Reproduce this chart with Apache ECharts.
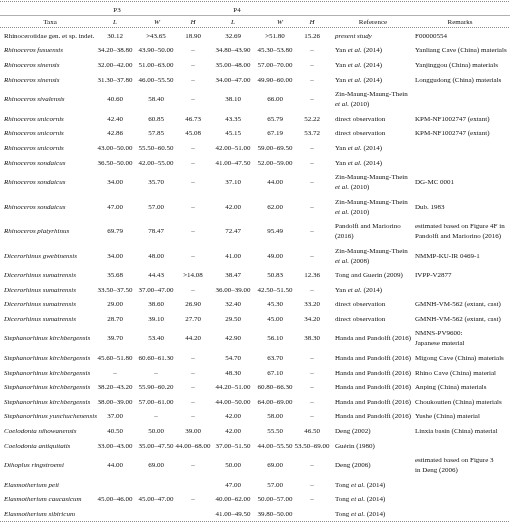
<!DOCTYPE html>
<html><head><meta charset="utf-8">
<script src="https://cdn.jsdelivr.net/npm/echarts@6/dist/echarts.min.js"></script>
<style>html,body{margin:0;padding:0;background:#fff}#c{width:510px;height:523px}</style>
</head><body><div id="c"></div>
<script>
// ---------- data ----------
const taxa = [
 "Rhinocerotidae gen. et sp. indet.","Rhinoceros fusuensis","Rhinoceros sinensis","Rhinoceros sinensis",
 "Rhinoceros sivalensis","Rhinoceros unicornis","Rhinoceros unicornis","Rhinoceros unicornis",
 "Rhinoceros sondaicus","Rhinoceros sondaicus","Rhinoceros sondaicus","Rhinoceros platyrhinus",
 "Dicerorhinus gwebinensis","Dicerorhinus sumatrensis","Dicerorhinus sumatrensis","Dicerorhinus sumatrensis",
 "Dicerorhinus sumatrensis","Stephanorhinus kirchbergensis","Stephanorhinus kirchbergensis","Stephanorhinus kirchbergensis",
 "Stephanorhinus kirchbergensis","Stephanorhinus kirchbergensis","Stephanorhinus yunchuchenensis","Coelodonta nihowanensis",
 "Coelodonta antiquitatis","Dihoplus ringstroemi","Elasmotherium peii","Elasmotherium caucasicum","Elasmotherium sibiricum"
];
const p3L = ["30.12","34.20–38.80","32.00–42.00","31.30–37.80","40.60","42.40","42.86","43.00–50.00","36.50–50.00","34.00","47.00","69.79","34.00","35.68","33.50–37.50","29.00","28.70","39.70","45.60–51.80","–","38.20–43.20","38.00–39.00","37.00","40.50","33.00–43.00","44.00","","45.00–46.00",""];
const p3W = [">43.65","43.90–50.00","51.00–63.00","46.00–55.50","58.40","60.85","57.85","55.50–60.50","42.00–55.00","35.70","57.00","78.47","48.00","44.43","37.00–47.00","38.60","39.10","53.40","60.60–61.30","–","55.90–60.20","57.00–61.00","–","50.00","35.00–47.50","69.00","","45.00–47.00",""];
const p3H = ["18.90","–","–","–","–","46.73","45.08","–","–","–","–","–","–",">14.08","–","26.90","27.70","44.20","–","–","–","–","–","39.00","44.00–68.00","–","","–",""];
const p4L = ["32.69","34.80–43.90","35.00–48.00","34.00–47.00","38.10","43.35","45.15","42.00–51.00","41.00–47.50","37.10","42.00","72.47","41.00","38.47","36.00–39.00","32.40","29.50","42.90","54.70","48.30","44.20–51.00","44.00–50.00","42.00","42.00","37.00–51.50","50.00","47.00","40.00–62.00","41.00–49.50"];
const p4W = [">51.80","45.30–53.80","57.00–70.00","49.90–60.00","66.00","65.79","67.19","59.00–69.50","52.00–59.00","44.00","62.00","95.49","49.00","50.83","42.50–51.50","45.30","45.00","56.10","63.70","67.10","60.80–66.30","64.00–69.00","58.00","55.50","44.00–55.50","69.00","57.00","50.00–57.00","39.80–50.00"];
const p4H = ["15.26","–","–","–","–","52.22","53.72","–","–","–","–","–","–","12.36","–","33.20","34.20","38.30","–","–","–","–","–","46.50","53.50–69.00","–","–","–",""];
const references = [
 "{i|present study}","Yan {i|et al.} (2014)","Yan {i|et al.} (2014)","Yan {i|et al.} (2014)",
 "Zin-Maung-Maung-Thein\n{i|et al.} (2010)","direct observation","direct observation","Yan {i|et al.} (2014)",
 "Yan {i|et al.} (2014)","Zin-Maung-Maung-Thein\n{i|et al.} (2010)","Zin-Maung-Maung-Thein\n{i|et al.} (2010)","Pandolfi and Mariorino\n(2016)",
 "Zin-Maung-Maung-Thein\n{i|et al.} (2008)","Tong and Guerin (2009)","Yan {i|et al.} (2014)","direct observation",
 "direct observation","Handa and Pandolfi (2016)","Handa and Pandolfi (2016)","Handa and Pandolfi (2016)",
 "Handa and Pandolfi (2016)","Handa and Pandolfi (2016)","Handa and Pandolfi (2016)","Deng (2002)",
 "Guérin (1980)","Deng (2006)","Tong {i|et al.} (2014)","Tong {i|et al.} (2014)","Tong {i|et al.} (2014)"
];
const remarks = [
 "F00000554","Yanliang Cave (China) materials","Yanjinggou (China) materials","Longgudong (China) materials",
 "","KPM-NF1002747 (extant)","KPM-NF1002747 (extant)","",
 "","DG-MC 0001","Dub. 1983","estimated based on Figure 4F in\nPandolfi and Mariorino (2016)",
 "NMMP-KU-IR 0469-1","IVPP-V2877","","GMNH-VM-562 (extant, cast)",
 "GMNH-VM-562 (extant, cast)","NMNS-PV9600:\nJapanese material","Migong Cave (China) materials","Rhino Cave (China) material",
 "Anping (China) materials","Choukoutien (China) materials","Yushe (China) material","Linxia basin (China) material",
 "","estimated based on Figure 3\nin Deng (2006)","","",""
];
const headerTop = ["P3","P4"];
const headerCols = ["Taxa","L","W","H","L","W","H","Reference","Remarks"];

// ---------- layout / style ----------
const FONT = "'Liberation Serif','Times New Roman',serif";
const FS = 7;
const COLOR = "#141414";
const firstRowY = 36, h1 = 14.6, h2 = 24.5, LH = 10;
const cols = [
 {arr: taxa, x: 4, align: 'left', italic: true},
 {arr: p3L, x: 115, align: 'center'},
 {arr: p3W, x: 156, align: 'center'},
 {arr: p3H, x: 193, align: 'center'},
 {arr: p4L, x: 233, align: 'center'},
 {arr: p4W, x: 275, align: 'center'},
 {arr: p4H, x: 312, align: 'center'},
 {arr: references, x: 335, align: 'left'},
 {arr: remarks, x: 415, align: 'left'}
];
const headerX = [50,115,157,193,233,280,312,373,460];
const headerTopX = [117,237];

// row heights from line counts
const rowH = taxa.map((t,i)=> (references[i].includes('\n')||remarks[i].includes('\n')) ? h2 : h1);
const rowY = [];
let yy = firstRowY;
rowH.forEach((h,i)=>{ if(i>0) yy += (rowH[i-1]+h)/2; rowY.push(yy); });
const rowData = taxa.map((t,i)=>[i,rowY[i]]);

const rich = {i:{fontStyle:'italic',fontFamily:FONT,fontSize:FS,fill:COLOR,lineHeight:LH}};

const chart = echarts.init(document.getElementById('c'),null,{renderer:'canvas'});
const g = [];
headerTop.forEach((t,k)=>g.push({type:'text',x:headerTopX[k],y:10,style:{text:t,fontFamily:FONT,fontSize:FS,fill:COLOR,align:'center',verticalAlign:'middle'}}));
headerCols.forEach((t,k)=>g.push({type:'text',x:headerX[k],y:22,style:{text:t,fontFamily:FONT,fontSize:FS,fontStyle:(t.length===1?'italic':'normal'),fill:COLOR,align:'center',verticalAlign:'middle'}}));
[[1.5,true],[15.5,false],[27.5,true],[521.5,true]].forEach(([y,d])=>g.push({type:'line',shape:{x1:0,y1:y,x2:510,y2:y},style:{stroke:d?'#8a8a8a':'#b0b0b0',lineWidth:1,lineDash:d?[1,1]:null}}));

chart.setOption({
 animation:false,
 grid:{left:0,right:0,top:0,bottom:0},
 xAxis:{type:'value',min:0,max:510,show:false},
 yAxis:{type:'value',min:0,max:523,inverse:true,show:false},
 graphic:g,
 series:[{
  type:'custom',
  data:rowData,
  renderItem:function(params,api){
   const i = api.value(0);
   const y = api.coord([0,api.value(1)])[1];
   const children=[];
   cols.forEach((c,k)=>{
     const txt = c.arr[i];
     if(!txt) return;
     const x = api.coord([c.x,0])[0];
     const italic = c.italic && i!==0;
     children.push({type:'text',style:{text:txt,x:x,y:y,align:c.align,verticalAlign:'middle',
       fontFamily:FONT,fontSize:FS,fontStyle:italic?'italic':'normal',fill:COLOR,lineHeight:LH,rich:rich}});
   });
   return {type:'group',children:children};
  }
 }]
});
</script></body></html>
